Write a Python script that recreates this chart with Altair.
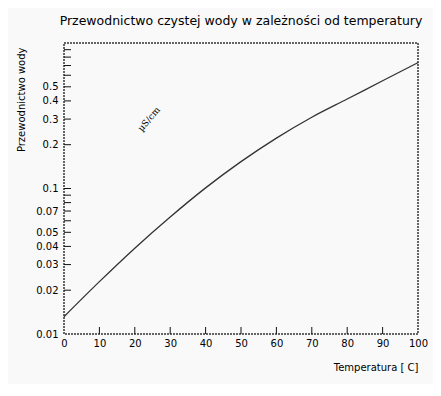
import altair as alt
import pandas as pd

temps = [0, 10, 20, 30, 40, 50, 60, 70, 80, 90, 100]
cond = [0.01315, 0.0229, 0.0389, 0.0637, 0.101, 0.153, 0.222, 0.309, 0.412, 0.55, 0.733]

y_label_vals = [0.01, 0.02, 0.03, 0.04, 0.05, 0.07, 0.1, 0.2, 0.3, 0.4, 0.5]
y_tick_vals = [0.02, 0.03, 0.04, 0.05, 0.06, 0.07, 0.08, 0.09, 0.1,
               0.2, 0.3, 0.4, 0.5, 0.6, 0.7, 0.8, 0.9]
x_label_vals = [0, 10, 20, 30, 40, 50, 60, 70, 80, 90, 100]
x_tick_vals = [10, 20, 30, 40, 50, 60, 70, 80, 90]

unit_text = ["µS/cm"]
unit_pos_t = [24]
unit_pos_v = [0.3]

W, H = 354, 291
FONT = "DejaVu Sans"

df = pd.DataFrame({"t": temps, "c": cond})
yt = pd.DataFrame({"t": [0] * len(y_tick_vals), "c": y_tick_vals})
xt = pd.DataFrame({"t": x_tick_vals, "c": [0.01] * len(x_tick_vals)})
ud = pd.DataFrame({"t": unit_pos_t, "c": unit_pos_v, "txt": unit_text})

xscale = alt.Scale(domain=[0, 100], nice=False, zero=False)
yscale = alt.Scale(type="log", domain=[0.01, 1], nice=False)

xaxis = alt.Axis(values=x_label_vals, title="Temperatura [ C]", titleAnchor="end",
                 titleFontWeight="normal", titleFontSize=10, titleFont=FONT,
                 titlePadding=14, ticks=False, domain=False, grid=False,
                 labelFont=FONT, labelFontSize=10, labelColor="#000", labelFlush=False,
                 labelOverlap=False, labelPadding=4, format="d")
yaxis = alt.Axis(values=y_label_vals, title="Przewodnictwo wody", titleAnchor="end",
                 titleFontWeight="normal", titleFontSize=10, titleFont=FONT,
                 titlePadding=9, titleY=4, ticks=False, domain=False, grid=False,
                 labelFont=FONT, labelFontSize=10, labelColor="#000", labelFlush=False,
                 labelOverlap=False, labelPadding=6, labelExpr="datum.value")

X = alt.X("t:Q", scale=xscale, axis=xaxis)
Y = alt.Y("c:Q", scale=yscale, axis=yaxis)

line = alt.Chart(df).mark_line(color="#333333", strokeWidth=1.3, interpolate="monotone").encode(
    x=X, y=Y)

yticks = alt.Chart(yt).mark_rule(color="#111111", strokeWidth=1).encode(
    y=Y, x=alt.value(0), x2=alt.value(7))

xticks = alt.Chart(xt).mark_rule(color="#111111", strokeWidth=1).encode(
    x=X, y=alt.value(H), y2=alt.value(H - 7))

unit = alt.Chart(ud).mark_text(angle=310, fontSize=9, font="DejaVu Serif", color="#000").encode(
    x=X, y=Y, text="txt:N")

chart = alt.layer(line, yticks, xticks, unit).properties(
    width=W, height=H,
    title=alt.TitleParams("Przewodnictwo czystej wody w zależności od temperatury",
                          font=FONT, fontSize=12.5, fontWeight="normal", color="#000",
                          offset=16, anchor="middle"),
    background="#f9f9f9",
    autosize=alt.AutoSizeParams(type="none"),
    padding={"left": 56, "top": 35, "right": 15, "bottom": 50},
).configure_view(stroke="#333333", strokeDash=[2, 1], strokeWidth=1.5)

chart.save("out.html", embed_options={"renderer": "svg", "actions": False})
